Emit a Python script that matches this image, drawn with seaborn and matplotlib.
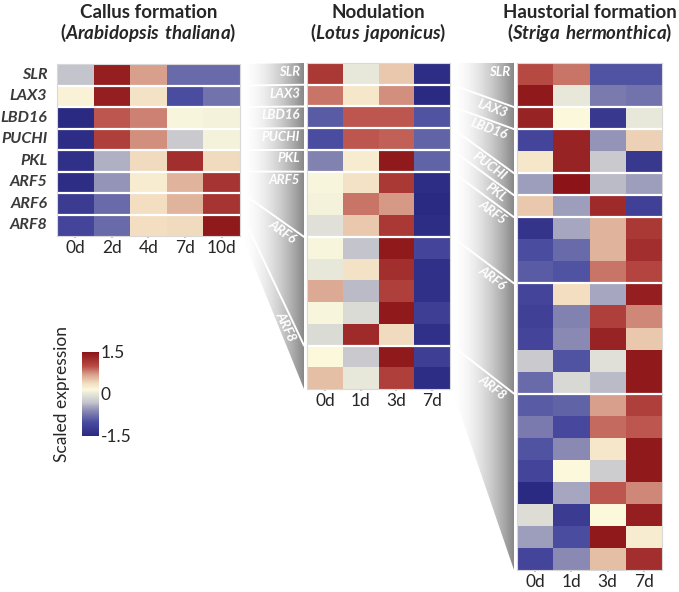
import matplotlib
matplotlib.use("Agg")
import matplotlib.pyplot as plt
import seaborn as sns
import pandas as pd
import numpy as np
from matplotlib.colors import LinearSegmentedColormap
from matplotlib.patches import Polygon

sns.set_theme(style="white")
plt.rcParams['font.family'] = ['Lato', 'DejaVu Sans']
plt.rcParams['mathtext.fontset'] = 'custom'
plt.rcParams['mathtext.rm'] = 'Lato'
plt.rcParams['mathtext.bf'] = 'Lato:bold'
plt.rcParams['mathtext.bfit'] = 'Lato:italic:bold'

# ---------------- datos ----------------
genes = ["SLR", "LAX3", "LBD16", "PUCHI", "PKL", "ARF5", "ARF6", "ARF8"]

callus_days = ["0d", "2d", "4d", "7d", "10d"]
callus_values = [
    [-0.30, 1.40, 0.70, -0.80, -0.80],
    [0.20, 1.40, 0.35, -1.00, -0.75],
    [-1.50, 0.95, 0.80, 0.12, 0.10],
    [-1.45, 1.10, 0.75, -0.25, 0.10],
    [-1.40, -0.40, 0.40, 1.25, 0.40],
    [-1.45, -0.55, 0.25, 0.60, 1.20],
    [-1.25, -0.80, 0.38, 0.60, 1.20],
    [-1.10, -0.80, 0.38, 0.40, 1.45],
]

lotus_days = ["0d", "1d", "3d", "7d"]
lotus_group_sizes = [1, 1, 1, 1, 1, 3, 5, 2]
lotus_values = [
    [1.15, 0.00, 0.50, -1.45],
    [0.85, 0.30, 0.75, -1.50],
    [-0.90, 0.95, 0.95, -0.95],
    [-1.00, 0.95, 0.92, -0.85],
    [-0.65, 0.25, 1.45, -0.85],
    [0.12, 0.35, 1.15, -1.45],
    [0.10, 0.85, 0.72, -1.50],
    [-0.05, 0.50, 1.15, -1.45],
    [0.12, -0.30, 1.45, -1.10],
    [0.00, 0.35, 1.25, -1.40],
    [0.65, -0.35, 1.10, -1.40],
    [0.12, -0.10, 1.45, -1.20],
    [-0.10, 1.30, 0.40, -1.40],
    [0.15, -0.25, 1.45, -1.20],
    [0.55, 0.00, 1.10, -1.45],
]

striga_days = ["0d", "1d", "3d", "7d"]
striga_group_sizes = [2, 1, 2, 1, 1, 3, 5, 8]
striga_values = [
    [1.00, 0.85, -0.95, -0.95],
    [1.45, 0.00, -0.70, -0.75],
    [1.35, 0.15, -1.30, 0.00],
    [-1.10, 1.35, -0.55, 0.45],
    [0.30, 1.35, -0.25, -1.30],
    [-0.50, 1.50, -0.35, -0.50],
    [0.50, -0.50, 1.30, -1.15],
    [-1.35, -0.45, 0.60, 1.15],
    [-1.00, -0.80, 0.60, 1.25],
    [-0.90, -0.95, 0.85, 1.05],
    [-1.10, 0.38, -0.45, 1.40],
    [-1.15, -0.65, 1.10, 0.78],
    [-1.10, -0.60, 1.35, 0.50],
    [-0.25, -0.95, -0.05, 1.45],
    [-0.80, -0.12, -0.35, 1.45],
    [-0.90, -0.85, 0.70, 1.10],
    [-0.70, -1.05, 0.88, 0.95],
    [-0.95, -0.60, 0.30, 1.45],
    [-1.10, 0.15, -0.22, 1.45],
    [-1.50, -0.45, 0.95, 0.78],
    [-0.08, -1.25, 0.15, 1.40],
    [-0.50, -1.00, 1.45, 0.25],
    [-1.10, -0.60, 0.55, 1.25],
]

# ---------------- estilo ----------------
expr_cmap = LinearSegmentedColormap.from_list("expr", [
    (0.00, "#2a2a82"), (0.167, "#4a4ca0"), (0.30, "#8a8ab4"),
    (0.40, "#c4c4cc"), (0.50, "#e6e6da"), (0.55, "#fbf8dc"),
    (0.633, "#f2dcc0"), (0.733, "#d8a08c"), (0.833, "#b84a44"),
    (1.00, "#8c1418")])
wedge_cmap = LinearSegmentedColormap.from_list("wedge", ["#ffffff", "#888888"])

W, H = 679, 592
fig = plt.figure(figsize=(W / 100, H / 100), dpi=100)


def px_axes(x0, y0, w, h, z=2):
    return fig.add_axes([x0 / W, 1 - (y0 + h) / H, w / W, h / H], zorder=z)


# capa de fondo en pixeles para cuñas y títulos
ov = fig.add_axes([0, 0, 1, 1], zorder=0)
ov.set_xlim(0, W)
ov.set_ylim(H, 0)
ov.axis('off')

panels = [
    dict(x=57, y=64, w=183, h=172, days=callus_days, vals=callus_values,
         sizes=[1] * 8, title="Callus formation", sp="Arabidopsis\\ thaliana"),
    dict(x=307, y=63, w=143, h=326, days=lotus_days, vals=lotus_values,
         sizes=lotus_group_sizes, title="Nodulation", sp="Lotus\\ japonicus"),
    dict(x=517, y=63, w=145, h=507, days=striga_days, vals=striga_values,
         sizes=striga_group_sizes, title="Haustorial formation", sp="Striga\\ hermonthica"),
]

cax = px_axes(82, 352, 17, 84)

for i, p in enumerate(panels):
    ax = px_axes(p["x"], p["y"], p["w"], p["h"])
    df = pd.DataFrame(p["vals"], columns=p["days"])
    sns.heatmap(df, ax=ax, cmap=expr_cmap, vmin=-1.5, vmax=1.5,
                cbar=(i == 0), cbar_ax=cax if i == 0 else None,
                xticklabels=p["days"], yticklabels=genes if i == 0 else False)
    for b in np.cumsum(p["sizes"])[:-1]:
        ax.axhline(b, color="white", lw=1.6)
    ax.tick_params(axis='x', length=1.5, color="#bbbbbb", pad=1.5, labelsize=12.5,
                   labelrotation=0, bottom=True)
    if i == 0:
        ax.tick_params(axis='y', length=0, pad=7, labelsize=11.5, labelrotation=0)
        for t in ax.get_yticklabels():
            t.set_fontweight("bold")
            t.set_fontstyle("italic")
            t.set_color("#3a3a3a")
    for s in ax.spines.values():
        s.set_visible(True)
        s.set_color("#d8d8d8")
        s.set_linewidth(0.8)
    p["rh"] = p["h"] / sum(p["sizes"])
    cx = p["x"] + p["w"] / 2
    ov.text(cx, 18, p["title"], ha="center", va="baseline", fontsize=13.5,
            fontweight="bold")
    ov.text(cx, 39, "(" + "$\\mathbfit{" + p["sp"] + "}$" + ")", ha="center",
            va="baseline", fontsize=13.5, fontweight="bold")


def wedge(left, right, xl, xr):
    bl = left["y"] + np.r_[0, np.cumsum(left["sizes"])] * left["rh"]
    br = right["y"] + np.r_[0, np.cumsum(right["sizes"])] * right["rh"]
    grad = np.linspace(0, 1, 256)[None, :] ** 1.8
    im = ov.imshow(np.repeat(grad, 2, axis=0), cmap=wedge_cmap, vmin=0, vmax=1,
                   extent=[xl, xr, br[-1], br[0]], aspect="auto", zorder=1)
    patch = Polygon([(xl, bl[0]), (xl, bl[-1]), (xr, br[-1]), (xr, br[0])],
                    closed=True, facecolor="none", edgecolor="none")
    ov.add_patch(patch)
    im.set_clip_path(patch)
    for k in range(1, len(bl) - 1):
        ov.plot([xl, xr], [bl[k], br[k]], color="white", lw=1.4, zorder=2)
    for k, g in enumerate(genes):
        dx, dy = xr - xl, br[k] - bl[k]
        n = np.hypot(dx, dy)
        ux, uy = dx / n, dy / n
        ang = -np.degrees(np.arctan2(dy, dx))
        x = xr - 4
        y = bl[k] + dy * (x - xl) / dx
        ov.text(x - uy * 2.5, y + ux * 2.5, g, color="white", fontsize=9.5,
                fontweight="bold", fontstyle="italic", ha="right", va="top",
                rotation=ang, rotation_mode="anchor", zorder=3)


wedge(panels[0], panels[1], 242, 304)
wedge(panels[1], panels[2], 452, 514)
ov.set_xlim(0, W)
ov.set_ylim(H, 0)

cax.set_yticks([-1.5, 0, 1.5])
cax.set_yticklabels(["-1.5", "0", "1.5"])
cax.set_yticks([-1, -0.5, 0.5, 1], minor=True)
cax.tick_params(which="both", direction="in", color="white", length=4, width=1,
                labelsize=12.5, pad=1, right=True, left=False)
cax.set_ylabel("Scaled expression", fontsize=12.5)
cax.yaxis.set_label_position("left")
cax.yaxis.labelpad = 9
for s in cax.spines.values():
    s.set_visible(False)

plt.savefig("out.png", dpi=100, facecolor="white")
plt.close()
